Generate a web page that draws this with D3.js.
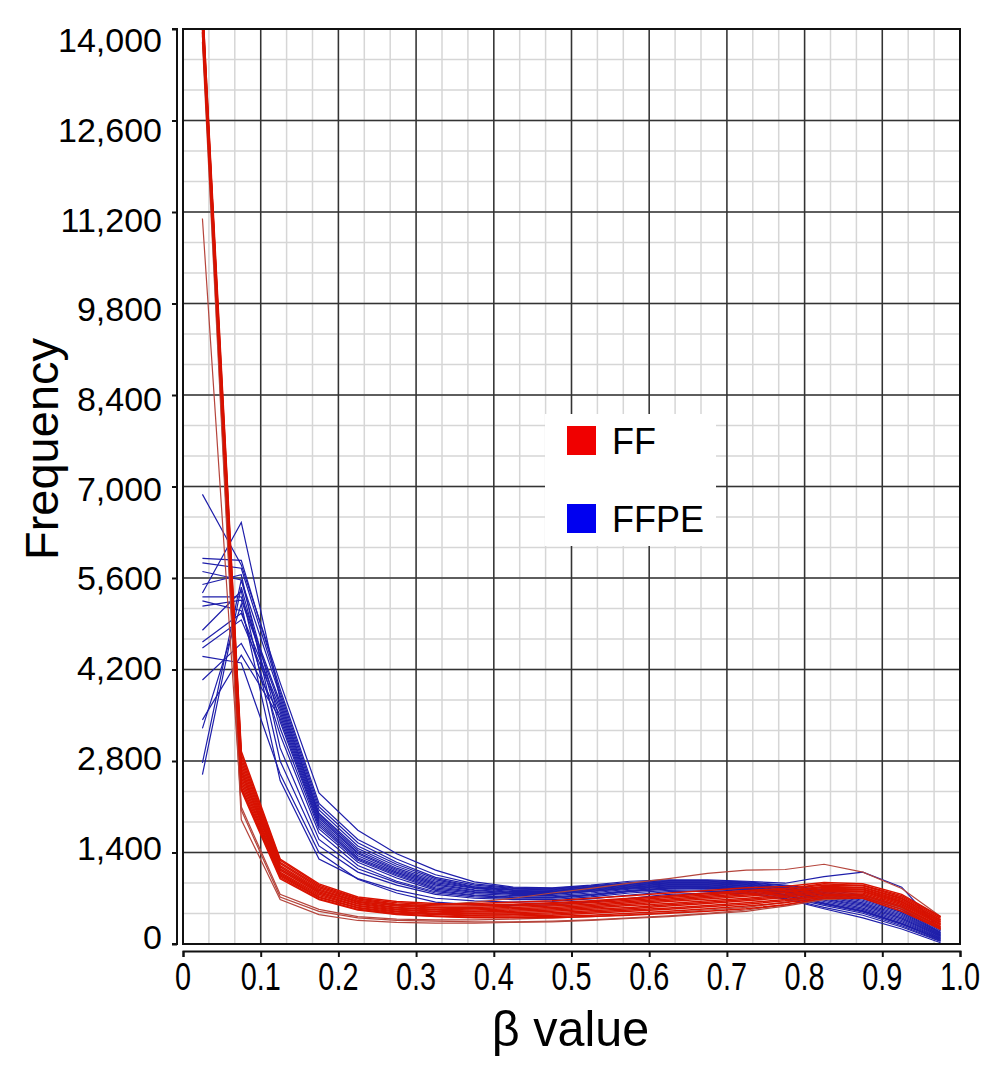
<!DOCTYPE html>
<html>
<head>
<meta charset="utf-8">
<script src="https://cdn.jsdelivr.net/npm/d3@7"></script>
<style>
  body { margin: 0; background: #fff; }
  text { font-family: Arial, "Liberation Sans", sans-serif; fill: #000; }
</style>
</head>
<body>
<div id="chart"></div>
<script>
// bin centres of the beta value histogram
const betaBins = [0.025, 0.075, 0.125, 0.175, 0.225, 0.275, 0.325, 0.375, 0.425, 0.475,
                  0.525, 0.575, 0.625, 0.675, 0.725, 0.775, 0.825, 0.875, 0.925, 0.975]

const xTicks = [0, 0.1, 0.2, 0.3, 0.4, 0.5, 0.6, 0.7, 0.8, 0.9, 1.0]
const xTickLabels = ['0', '0.1', '0.2', '0.3', '0.4', '0.5', '0.6', '0.7', '0.8', '0.9', '1.0']
const yTicks = [0, 1400, 2800, 4200, 5600, 7000, 8400, 9800, 11200, 12600, 14000]
const yTickLabels = ['0', '1,400', '2,800', '4,200', '5,600', '7,000', '8,400', '9,800', '11,200', '12,600', '14,000']

const legendLabels = ['FF', 'FFPE']

// FF samples (fresh frozen)
const ffSeries = [
  [14400, 2950, 1300, 920, 720, 650, 620, 600, 610, 630, 660, 700, 740, 780, 820, 850, 900, 900, 740, 410],
  [14300, 2900, 1280, 900, 700, 630, 600, 620, 640, 660, 700, 740, 780, 820, 860, 880, 940, 920, 760, 420],
  [14250, 2850, 1250, 880, 690, 610, 580, 580, 600, 620, 650, 690, 730, 770, 810, 840, 920, 890, 720, 390],
  [14200, 2800, 1230, 860, 670, 600, 560, 560, 580, 600, 630, 670, 710, 750, 790, 820, 880, 870, 700, 370],
  [14150, 2750, 1200, 840, 650, 580, 550, 540, 560, 580, 610, 650, 690, 730, 770, 800, 870, 860, 690, 360],
  [14100, 2700, 1180, 820, 640, 560, 530, 520, 540, 560, 590, 630, 670, 710, 750, 790, 850, 840, 670, 340],
  [14050, 2650, 1150, 800, 620, 550, 520, 500, 520, 540, 570, 610, 650, 690, 730, 770, 830, 830, 650, 330],
  [14000, 2600, 1130, 780, 610, 530, 500, 490, 500, 520, 550, 590, 620, 660, 700, 750, 820, 810, 640, 310],
  [13950, 2550, 1100, 760, 590, 520, 490, 470, 480, 500, 530, 560, 600, 640, 680, 730, 800, 800, 620, 300],
  [14350, 2500, 1080, 740, 580, 500, 470, 460, 460, 480, 510, 540, 580, 620, 660, 710, 780, 780, 600, 290],
  [14450, 2450, 1060, 720, 560, 490, 460, 440, 450, 460, 490, 520, 550, 590, 630, 680, 760, 760, 580, 270],
  [14300, 2400, 1040, 710, 550, 470, 450, 430, 430, 440, 470, 500, 530, 570, 610, 660, 740, 740, 560, 260],
  [14200, 2380, 1020, 690, 530, 460, 430, 410, 410, 420, 440, 470, 500, 540, 580, 630, 720, 720, 530, 240],
  [14100, 2350, 1000, 680, 520, 450, 420, 400, 400, 400, 420, 440, 470, 500, 540, 600, 700, 700, 500, 230]
]
// FF samples that sit apart from the main bundle
const ffOutliers = [
  [13900, 2050, 720, 500, 400, 360, 350, 340, 340, 350, 370, 400, 430, 470, 520, 600, 700, 720, 560, 240],
  [13800, 1900, 680, 450, 360, 330, 320, 320, 330, 340, 360, 390, 420, 460, 500, 580, 680, 700, 540, 220],
  [14300, 2650, 1150, 820, 650, 590, 600, 640, 700, 780, 850, 930, 1000, 1080, 1130, 1140, 1220, 1100, 850, 420],
  [11100, 2100, 760, 530, 420, 380, 370, 370, 380, 400, 420, 450, 480, 520, 560, 640, 730, 750, 580, 250]
]

// FFPE samples
const ffpeSeries = [
  [6880, 5800, 4000, 2310, 1740, 1380, 1130, 950, 870, 860, 900, 960, 980, 980, 960, 930, 1030, 1100, 870, 210],
  [5900, 5870, 3900, 2150, 1600, 1300, 1060, 920, 860, 850, 890, 940, 970, 970, 950, 900, 830, 750, 560, 200],
  [5830, 5750, 3850, 2100, 1550, 1250, 1020, 900, 850, 840, 880, 930, 960, 960, 940, 890, 810, 720, 530, 180],
  [5700, 5570, 3800, 2050, 1500, 1220, 1000, 880, 840, 830, 870, 920, 950, 950, 930, 870, 790, 690, 500, 170],
  [5370, 6450, 3750, 2000, 1460, 1190, 980, 870, 830, 820, 860, 910, 940, 940, 920, 860, 770, 670, 480, 160],
  [5310, 5310, 3700, 1980, 1430, 1160, 960, 860, 820, 810, 850, 900, 930, 930, 910, 850, 760, 650, 460, 150],
  [5170, 5260, 3650, 1950, 1400, 1140, 940, 850, 800, 800, 840, 890, 920, 920, 900, 840, 740, 630, 440, 140],
  [4620, 5060, 3600, 1920, 1380, 1120, 920, 830, 790, 790, 830, 880, 910, 910, 890, 820, 720, 610, 420, 130],
  [4530, 4960, 3550, 1890, 1350, 1100, 900, 820, 780, 780, 820, 870, 900, 900, 880, 810, 700, 590, 400, 120],
  [4040, 4600, 3500, 1860, 1320, 1080, 880, 800, 770, 770, 810, 860, 890, 890, 870, 800, 690, 570, 380, 110],
  [3430, 4420, 3450, 1830, 1300, 1060, 860, 790, 760, 760, 800, 850, 880, 880, 860, 790, 670, 550, 360, 100],
  [2770, 5570, 3400, 1800, 1280, 1040, 840, 770, 740, 740, 780, 840, 870, 870, 850, 780, 650, 530, 340, 90],
  [2590, 5460, 3300, 1760, 1250, 1010, 820, 750, 720, 720, 760, 820, 860, 860, 840, 760, 630, 510, 320, 80],
  [5500, 5650, 3000, 1600, 1150, 940, 780, 720, 700, 700, 740, 800, 840, 850, 830, 740, 610, 490, 300, 70],
  [4800, 5400, 2800, 1500, 1100, 900, 760, 700, 680, 680, 720, 780, 820, 830, 810, 720, 590, 470, 280, 50],
  [3300, 5200, 2500, 1300, 1000, 820, 700, 660, 640, 650, 690, 750, 800, 810, 790, 700, 560, 440, 260, 40],
  [5250, 5100, 3200, 1700, 1200, 960, 800, 740, 710, 710, 750, 810, 850, 860, 840, 750, 620, 500, 310, 60],
  [4400, 4300, 2600, 1400, 990, 780, 640, 600, 590, 600, 640, 700, 760, 780, 770, 690, 540, 400, 230, 20]
]

const width = 1004
const height = 1072
const plot = {left: 183, right: 960, top: 29, bottom: 944}

const x = d3.scaleLinear().domain([0, 1]).range([plot.left, plot.right])
const y = d3.scaleLinear().domain([0, 14000]).range([plot.bottom, plot.top])
// tick labels drift a little against their ticks in the original
const yLabel = d3.scaleLinear().domain([0, 14000]).range([937, 40])

const svg = d3.select('#chart').append('svg')
  .attr('width', width)
  .attr('height', height)

svg.append('defs').append('clipPath').attr('id', 'plotclip')
  .append('rect')
  .attr('x', plot.left).attr('y', plot.top)
  .attr('width', plot.right - plot.left).attr('height', plot.bottom - plot.top)

// grid: light minor lines every third of a major step
const grid = svg.append('g')
grid.selectAll('.minor-x')
  .data(d3.range(0, 31).map(i => i / 30))
  .enter().append('line')
  .attr('x1', d => x(d)).attr('x2', d => x(d))
  .attr('y1', plot.top).attr('y2', plot.bottom)
  .attr('stroke', '#d6d6d6').attr('stroke-width', 1.5)
grid.selectAll('.minor-y')
  .data(d3.range(0, 31).map(i => i * 1400 / 3))
  .enter().append('line')
  .attr('y1', d => y(d)).attr('y2', d => y(d))
  .attr('x1', plot.left).attr('x2', plot.right)
  .attr('stroke', '#d6d6d6').attr('stroke-width', 1.5)
grid.selectAll('.major-x')
  .data(xTicks)
  .enter().append('line')
  .attr('x1', d => x(d)).attr('x2', d => x(d))
  .attr('y1', plot.top).attr('y2', plot.bottom)
  .attr('stroke', '#333').attr('stroke-width', 1.5)
grid.selectAll('.major-y')
  .data(yTicks)
  .enter().append('line')
  .attr('y1', d => y(d)).attr('y2', d => y(d))
  .attr('x1', plot.left).attr('x2', plot.right)
  .attr('stroke', '#333').attr('stroke-width', 1.5)

// legend sits on a white box that hides the grid
const legend = svg.append('g').attr('transform', 'translate(545,414)')
legend.append('rect').attr('width', 171).attr('height', 132).attr('fill', '#fff')

const line = d3.line()
  .x((d, i) => x(betaBins[i]))
  .y(d => y(d))

const lines = svg.append('g').attr('clip-path', 'url(#plotclip)')
lines.selectAll('.ffpe')
  .data(ffpeSeries)
  .enter().append('path')
  .attr('class', 'ffpe')
  .attr('d', line)
  .attr('fill', 'none')
  .attr('stroke', '#1e1eaa')
  .attr('stroke-width', 1.2)
lines.selectAll('.ff-out')
  .data(ffOutliers)
  .enter().append('path')
  .attr('class', 'ff-out')
  .attr('d', line)
  .attr('fill', 'none')
  .attr('stroke', '#b5453c')
  .attr('stroke-width', 1.2)
lines.selectAll('.ff')
  .data(ffSeries)
  .enter().append('path')
  .attr('class', 'ff')
  .attr('d', line)
  .attr('fill', 'none')
  .attr('stroke', '#d81200')
  .attr('stroke-width', 1.5)

// plot frame
svg.append('rect')
  .attr('x', plot.left).attr('y', plot.top)
  .attr('width', plot.right - plot.left).attr('height', plot.bottom - plot.top)
  .attr('fill', 'none').attr('stroke', '#111').attr('stroke-width', 2)

// y axis, drawn a little left of the frame
const yAxis = svg.append('g').attr('transform', 'translate(177,0)')
  .call(d3.axisLeft(y).tickValues(yTicks).tickSize(5).tickFormat(''))
yAxis.select('.domain').attr('stroke', '#111').attr('stroke-width', 2)
  .attr('d', 'M-5,' + y(14000) + 'H0V' + y(0) + 'H-5')
yAxis.selectAll('.tick line').attr('stroke', '#111').attr('stroke-width', 2)
svg.append('g').selectAll('text')
  .data(yTicks)
  .enter().append('text')
  .attr('x', 162)
  .attr('y', d => yLabel(d))
  .attr('dy', '0.36em')
  .attr('text-anchor', 'end')
  .style('font-size', '34px')
  .text((d, i) => yTickLabels[i])

// x axis, drawn a little below the frame
const xAxis = svg.append('g').attr('transform', 'translate(0,951)')
  .call(d3.axisBottom(x).tickValues(xTicks).tickSize(6).tickFormat(''))
xAxis.select('.domain').attr('stroke', '#111').attr('stroke-width', 2)
xAxis.selectAll('.tick line').attr('stroke', '#111').attr('stroke-width', 2)
svg.append('g').selectAll('text')
  .data(xTicks)
  .enter().append('text')
  .attr('transform', d => 'translate(' + x(d) + ',990) scale(0.74,1)')
  .attr('text-anchor', 'middle')
  .style('font-size', '39px')
  .text((d, i) => xTickLabels[i])

// axis titles
svg.append('text')
  .attr('transform', 'translate(' + (x(0.5) - 1) + ',1046) scale(0.97,1)')
  .attr('text-anchor', 'middle')
  .style('font-size', '50px')
  .text('β value')
svg.append('text')
  .attr('transform', 'translate(58,449) rotate(-90)')
  .attr('text-anchor', 'middle')
  .style('font-size', '47px')
  .text('Frequency')

// legend entries
const legendColors = ['#f00000', '#0000f0']
legendLabels.forEach((label, i) => {
  legend.append('rect')
    .attr('x', 22).attr('y', 12 + i * 78)
    .attr('width', 29).attr('height', 29)
    .attr('fill', legendColors[i])
  legend.append('text')
    .attr('x', 67).attr('y', 40 + i * 78)
    .style('font-size', '36px')
    .text(label)
})
</script>
</body>
</html>
